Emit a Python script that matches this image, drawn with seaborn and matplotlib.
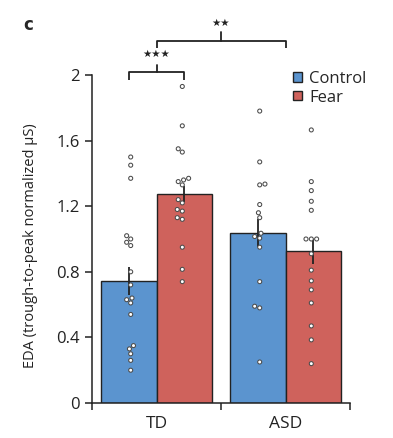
#!/usr/bin/env python3

import numpy as np
import pandas as pd
import seaborn as sns
from matplotlib import pyplot as plt

# groups / conditions
groups = ["TD", "ASD"]
conditions = ["Control", "Fear"]

# bar heights (group means) and s.e.m.
mean_control = [0.745, 1.037]
mean_fear = [1.275, 0.925]
sem_control = [0.085, 0.087]
sem_fear = [0.05, 0.075]

# individual participants
td_control = [1.50, 1.45, 1.37, 1.02, 1.00, 0.98, 0.96, 0.80, 0.72,
              0.64, 0.63, 0.61, 0.54, 0.35, 0.33, 0.30, 0.26, 0.20]
td_fear = [1.93, 1.69, 1.55, 1.53, 1.37, 1.36, 1.35, 1.33, 1.24,
           1.22, 1.18, 1.17, 1.13, 1.12, 0.95, 0.815, 0.74]
asd_control = [1.78, 1.47, 1.335, 1.33, 1.21, 1.16, 1.13, 1.035,
               1.015, 1.005, 0.95, 0.74, 0.59, 0.58, 0.25]
asd_fear = [1.665, 1.35, 1.295, 1.23, 1.175, 1.00, 1.00, 1.00,
            0.91, 0.81, 0.745, 0.69, 0.61, 0.47, 0.385, 0.24]

colors = {"Control": "#5b94cf", "Fear": "#cf625c"}
ink = "#222222"


def build_frames():
    means = pd.DataFrame({
        "group": groups * 2,
        "condition": ["Control"] * 2 + ["Fear"] * 2,
        "value": mean_control + mean_fear,
        "sem": sem_control + sem_fear,
    })
    parts = []
    for grp, cond, vals in [("TD", "Control", td_control),
                            ("TD", "Fear", td_fear),
                            ("ASD", "Control", asd_control),
                            ("ASD", "Fear", asd_fear)]:
        parts.append(pd.DataFrame({"group": grp, "condition": cond,
                                   "value": vals}))
    points = pd.concat(parts, ignore_index=True)
    return means, points


def bracket(ax, x0, x1, y, drop, rise, label, text_y):
    ax.plot([x0, x0, x1, x1], [y - drop, y, y, y - drop], color=ink,
            lw=1.3, clip_on=False, solid_capstyle="butt")
    xm = (x0 + x1) / 2
    ax.plot([xm, xm], [y, y + rise], color=ink, lw=1.3, clip_on=False)
    ax.text(xm, text_y, label, ha="center", va="center", fontsize=7.5,
            family=["DejaVu Sans"], color=ink)


def plot_eda(fig_location="out.png"):
    sns.set_theme(style="white", context="paper")
    plt.rcParams["font.family"] = ["Open Sans", "DejaVu Sans"]

    means, points = build_frames()

    fig = plt.figure(figsize=(3.93, 4.38), dpi=100)
    ax = fig.add_axes([0.2341, 0.0799, 0.6565, 0.7489])

    sns.barplot(data=means, x="group", y="value", hue="condition",
                order=groups, hue_order=conditions, palette=colors,
                width=0.866, gap=0, saturation=1, errorbar=None,
                edgecolor=ink, linewidth=1.0, ax=ax, zorder=1)
    bar_conts = list(ax.containers)

    # error bars on top of each bar
    for cont, cond in zip(bar_conts, conditions):
        sems = means[means["condition"] == cond].set_index("group").loc[groups, "sem"]
        for patch, s in zip(cont.patches, sems):
            xc = patch.get_x() + patch.get_width() / 2
            ax.errorbar(xc, patch.get_height(), yerr=s, fmt="none",
                        ecolor=ink, elinewidth=1.3, capsize=0, zorder=3)

    sns.swarmplot(data=points, x="group", y="value", hue="condition",
                  order=groups, hue_order=conditions, dodge=True,
                  palette={"Control": "white", "Fear": "white"},
                  size=2.9, edgecolor="#4a4a4a", linewidth=0.75,
                  legend=False, ax=ax, zorder=4)

    ax.set_xlim(-0.5, 1.5)
    ax.set_ylim(0, 2)
    ax.set_yticks([0, 0.4, 0.8, 1.2, 1.6, 2])
    ax.set_yticklabels(["0", "0.4", "0.8", "1.2", "1.6", "2"])
    ax.set_xticks([-0.5, 0.5, 1.5])
    ax.set_xticklabels([])
    ax.set_xticks([0, 1], minor=True)
    ax.set_xticklabels(groups, minor=True)
    ax.tick_params(axis="x", which="major", direction="out", length=5,
                   width=1.1, color=ink, bottom=True)
    ax.tick_params(axis="x", which="minor", length=0, pad=9,
                   labelsize=12.5, labelcolor=ink, bottom=True)
    ax.tick_params(axis="y", direction="out", length=5, width=1.1,
                   color=ink, left=True, pad=4, labelsize=12,
                   labelcolor=ink)

    sns.despine(ax=ax)
    for side in ["left", "bottom"]:
        ax.spines[side].set_color(ink)
        ax.spines[side].set_linewidth(1.1)

    ax.set_xlabel("")
    ax.set_ylabel("EDA (trough-to-peak normalized µS)", fontsize=10.5,
                  color=ink)
    ax.yaxis.set_label_coords(-0.21, 0.48)

    # legend with small square swatches
    ax.legend(bar_conts, conditions, loc="upper left",
              bbox_to_anchor=(0.78, 1.012), frameon=False, fontsize=12,
              handlelength=0.5, handleheight=0.5, handletextpad=0.45,
              labelspacing=0.15, borderpad=0, borderaxespad=0)

    # significance brackets
    bars = [p for c in bar_conts for p in c.patches]
    td_c = bars[0].get_x() + bars[0].get_width() / 2
    td_f = bars[2].get_x() + bars[2].get_width() / 2
    bracket(ax, td_c, td_f, 2.018, 0.048, 0.045, "★★★", 2.13)
    bracket(ax, 0, 1, 2.207, 0.045, 0.055, "★★", 2.318)

    fig.text(0.06, 0.943, "c", fontsize=12, fontweight="bold",
             va="center", ha="left", family=["DejaVu Sans"])

    fig.savefig(fig_location, dpi=100)


if __name__ == "__main__":
    plot_eda("out.png")
